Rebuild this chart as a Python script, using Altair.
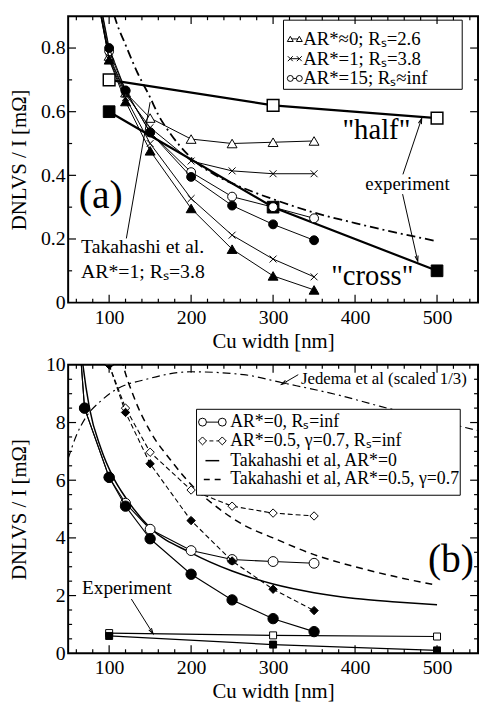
import altair as alt
import pandas as pd

FONT = "Liberation Serif"
W = 415
HA = 290
HB = 292
X_DOMAIN = [50, 550]
A_DOMAIN = [0, 0.9]
B_DOMAIN = [0, 10]

# ---------------- panel (a) data ----------------
a_x = [70, 100, 120, 150, 200, 250, 300, 350]
a_tri_open = [1.18, 0.775, 0.66, 0.58, 0.514, 0.50, 0.504, 0.508]
a_tri_fill = [1.17, 0.763, 0.632, 0.477, 0.296, 0.168, 0.084, 0.04]
a_x_half = [1.18, 0.77, 0.655, 0.55, 0.445, 0.414, 0.405, 0.405]
a_x_cross = [1.17, 0.765, 0.645, 0.50, 0.327, 0.212, 0.137, 0.081]
a_circ_open = [1.2, 0.79, 0.665, 0.535, 0.41, 0.333, 0.30, 0.265]
a_circ_fill = [1.2, 0.80, 0.667, 0.535, 0.395, 0.305, 0.246, 0.196]
exp_x = [100, 300, 500]
exp_half = [0.70, 0.62, 0.58]
exp_cross = [0.60, 0.30, 0.10]
a_tak_x = [100, 109, 120, 135, 150, 160, 175, 200, 230, 260, 300, 350, 400, 450, 500]
a_tak_y = [0.96, 0.88, 0.81, 0.72, 0.645, 0.59, 0.53, 0.455, 0.40, 0.364, 0.325, 0.283, 0.25, 0.22, 0.193]

# ---------------- panel (b) data ----------------
b_circ_x = [60, 70, 100, 120, 150, 200, 250, 300, 350]
b_circ_open = [12.3, 8.5, 6.1, 5.2, 4.3, 3.56, 3.25, 3.18, 3.12]
b_circ_fill = [12.3, 8.5, 6.1, 5.1, 3.97, 2.74, 1.85, 1.2, 0.75]
b_dia_x = [100, 120, 150, 200, 250, 300, 350]
b_dia_open = [10.0, 8.5, 6.97, 5.66, 5.1, 4.86, 4.76]
b_dia_fill = [10.0, 8.35, 6.57, 4.6, 3.2, 2.22, 1.48]
b_tak0_x = [60, 68, 76, 90, 105, 120, 150, 200, 250, 300, 350, 400, 450, 500]
b_tak0_y = [12.2, 10.0, 8.5, 7.1, 6.1, 5.4, 4.35, 3.48, 2.85, 2.4, 2.1, 1.9, 1.78, 1.68]
b_tak5_x = [112, 117, 130, 150, 175, 200, 230, 264, 300, 350, 400, 450, 500]
b_tak5_y = [10.6, 10.0, 8.9, 7.7, 6.7, 5.85, 5.1, 4.45, 4.0, 3.42, 3.0, 2.65, 2.36]
b_jed_x = [50, 60, 72, 90, 108, 144, 200, 264, 311, 380, 431, 500, 550]
b_jed_y = [6.75, 7.55, 8.2, 8.75, 9.14, 9.49, 9.76, 9.66, 9.38, 8.95, 8.56, 8.07, 7.72]

# ---------------- ticks ----------------
x_major = [100, 200, 300, 400, 500]
x_minor = [60, 80, 120, 140, 160, 180, 220, 240, 260, 280, 320, 340, 360, 380,
           420, 440, 460, 480, 520, 540]
a_y_labels = [0, 0.2, 0.4, 0.6, 0.8]
a_y_major = [0.2, 0.4, 0.6, 0.8]
a_y_minor = [0.1, 0.3, 0.5, 0.7]
b_y_labels = [0, 2, 4, 6, 8, 10]
b_y_major = [2, 4, 6, 8]
b_y_minor = [0.5, 1, 1.5, 2.5, 3, 3.5, 4.5, 5, 5.5, 6.5, 7, 7.5, 8.5, 9, 9.5]

XPATH = "M-1,-1L1,1M-1,1L1,-1"
ARROW = "M-0.4,1.4L0,0L0.4,1.4"


class Panel:
    def __init__(self, domain, yvals, label_expr, H):
        self.domain = domain
        self.yvals = yvals
        self.label_expr = label_expr
        self.H = H

    def X(self, f):
        return alt.X(f, scale=alt.Scale(domain=X_DOMAIN, nice=False, zero=False),
                     title="Cu width [nm]",
                     axis=alt.Axis(values=x_major, ticks=False, domain=False, grid=False,
                                   labelPadding=5, titlePadding=3, format="d"))

    def Y(self, f):
        return alt.Y(f, scale=alt.Scale(domain=self.domain, nice=False, zero=False),
                     title="DNLVS / I [mΩ]",
                     axis=alt.Axis(values=self.yvals, ticks=False, domain=False, grid=False,
                                   labelPadding=3, labelExpr=self.label_expr, titleX=-39))

    def xy(self, chart):
        return chart.encode(x=self.X("x:Q"), y=self.Y("y:Q"))

    def series(self, x, y, shape=None, fill=None, size=60, dash=None, sw=1.0,
               interp="linear", msw=1.0):
        df = pd.DataFrame({"x": x, "y": y})
        out = []
        kw = dict(color="black", strokeWidth=sw, clip=True, interpolate=interp)
        if dash:
            kw["strokeDash"] = dash
        out.append(self.xy(alt.Chart(df).mark_line(**kw)))
        if shape:
            if fill is None:
                m = alt.Chart(df).mark_point(shape=shape, filled=False, stroke="black",
                                             strokeWidth=msw, size=size, opacity=1, clip=True)
            else:
                m = alt.Chart(df).mark_point(shape=shape, filled=True, fill=fill, stroke="black",
                                             strokeWidth=msw, size=size, opacity=1, clip=True)
            out.append(self.xy(m))
        return out

    def text(self, x, y, t, size, align="left", baseline="middle"):
        df = pd.DataFrame({"x": x, "y": y, "t": t})
        return self.xy(alt.Chart(df).mark_text(font=FONT, fontSize=size, align=align,
                                               baseline=baseline, color="black")).encode(text="t:N")

    def seg(self, x1, y1, x2, y2, sw=1.0, dash=None):
        df = pd.DataFrame({"x": x1, "y": y1, "x2": x2, "y2": y2})
        kw = dict(color="black", strokeWidth=sw)
        if dash:
            kw["strokeDash"] = dash
        return alt.Chart(df).mark_rule(**kw).encode(
            x=self.X("x:Q"), y=self.Y("y:Q"), x2="x2:Q", y2="y2:Q")

    def head(self, x, y, ang):
        df = pd.DataFrame({"x": [x], "y": [y]})
        return self.xy(alt.Chart(df).mark_point(shape=ARROW, filled=False, stroke="black",
                                                strokeWidth=1, size=64, angle=ang, opacity=1))

    def box(self, x1, x2, y1, y2):
        df = pd.DataFrame({"x": [x1], "x2": [x2], "y": [y1], "y2": [y2]})
        return alt.Chart(df).mark_rect(fill="white", stroke="black", strokeWidth=1).encode(
            x=self.X("x:Q"), y=self.Y("y:Q"), x2="x2:Q", y2="y2:Q")

    def ticks(self, ymaj, ymin):
        out = []
        H = self.H
        for vals, L in ((x_major, 8), (x_minor, 4)):
            df = pd.DataFrame({"x": vals})
            b = alt.Chart(df).mark_rule(color="black", strokeWidth=1.2)
            out.append(b.encode(x=self.X("x:Q"), y=alt.value(H), y2=alt.value(H - L)))
            out.append(b.encode(x=self.X("x:Q"), y=alt.value(0), y2=alt.value(L)))
        for vals, L in ((ymaj, 8), (ymin, 4)):
            df = pd.DataFrame({"y": vals})
            b = alt.Chart(df).mark_rule(color="black", strokeWidth=1.2)
            out.append(b.encode(y=self.Y("y:Q"), x=alt.value(0), x2=alt.value(L)))
            out.append(b.encode(y=self.Y("y:Q"), x=alt.value(W), x2=alt.value(W - L)))
        return out


# ================= panel (a) =================
pa = Panel(A_DOMAIN, a_y_labels, "datum.value == 0 ? '0' : format(datum.value, '.1f')", HA)
A = []
A += pa.series(a_tak_x, a_tak_y, dash=[9, 4, 2, 4], sw=1.8, interp="monotone")
A += pa.series(exp_x, exp_half, shape="square", fill="white", size=140, sw=2.2, msw=1.5)
A += pa.series(exp_x, exp_cross, shape="square", fill="black", size=140, sw=2.2)
A += pa.series(a_x, a_tri_open, shape="triangle-up", fill="white", size=100)
A += pa.series(a_x, a_x_half, shape=XPATH, size=49)
A += pa.series(a_x, a_circ_open, shape="circle", fill="white", size=81)
A += pa.series(a_x, a_tri_fill, shape="triangle-up", fill="black", size=100)
A += pa.series(a_x, a_x_cross, shape=XPATH, size=49)
A += pa.series(a_x, a_circ_fill, shape="circle", fill="black", size=81)

# annotations (a)
A.append(pa.text([426], [0.543], ['"half"'], 29, align="center"))
A.append(pa.text([421], [0.084], ['"cross"'], 29, align="center"))
A.append(pa.text([464], [0.372], ["experiment"], 19, align="center"))
A.append(pa.seg([458.4], [0.403], [481.3], [0.579]))
A.append(pa.head(481.3, 0.579, 18.5))
A.append(pa.seg([458], [0.341], [476.5], [0.13]))
A.append(pa.head(476.5, 0.13, 167.2))
A.append(pa.text([89.8], [0.335], ["(a)"], 40, align="center"))
A.append(pa.seg([121], [0.2017], [150], [0.63]))
A.append(pa.text([65.7, 65.7], [0.155, 0.0775], ["Takahashi et al.", "AR*=1; Rₛ=3.8"], 20,
                 baseline="alphabetic"))

# legend (a)
la_rows = [0.8286, 0.7665, 0.7045]
la_text = ["AR*≈0; Rₛ=2.6", "AR*=1; Rₛ=3.8", "AR*=15; Rₛ≈inf"]
la_shapes = ["triangle-up", XPATH, "circle"]
la_sizes = [36, 25, 36]
A.append(pa.box(312.7, 530.7, 0.8876, 0.6703))
for r, s, z in zip(la_rows, la_shapes, la_sizes):
    A += pa.series([321, 332], [r, r], shape=s, fill=None if s == XPATH else "white", size=z)
A.append(pa.text([336.7] * 3, la_rows, la_text, 19))
A += pa.ticks(a_y_major, a_y_minor)

top = alt.layer(*A).properties(width=W, height=HA)

# ================= panel (b) =================
pb = Panel(B_DOMAIN, b_y_labels, "format(datum.value, 'd')", HB)
B = []
B += pb.series(b_jed_x, b_jed_y, dash=[8, 4, 2, 4], sw=1.2, interp="monotone")
B += pb.series(b_tak0_x, b_tak0_y, sw=1.5, interp="monotone")
B += pb.series(b_tak5_x, b_tak5_y, sw=1.5, dash=[7, 5], interp="monotone")
B += pb.series(exp_x, exp_half, shape="square", fill="white", size=50, sw=1.2)
B += pb.series(exp_x, exp_cross, shape="square", fill="black", size=50, sw=1.2)
B += pb.series(b_dia_x, b_dia_open, shape="diamond", fill="white", size=72, dash=[5, 3], sw=1.1)
B += pb.series(b_circ_x, b_circ_open, shape="circle", fill="white", size=100, sw=1.1)
B += pb.series(b_dia_x, b_dia_fill, shape="diamond", fill="black", size=72, dash=[5, 3], sw=1.1)
B += pb.series(b_circ_x, b_circ_fill, shape="circle", fill="black", size=110, sw=1.1)

# annotations (b)
B.append(pb.text([517], [3.22], ["(b)"], 40, align="center"))
B.append(pb.text([66.9], [2.25], ["Experiment"], 19.5))
B.append(pb.seg([127.1], [1.88], [153.6], [0.68]))
B.append(pb.head(153.6, 0.68, 147.8))

# legend (b)
lb_rows = [8.014, 7.363, 6.678, 6.027]
lb_text = ["AR*=0, Rₛ=inf", "AR*=0.5, γ=0.7, Rₛ=inf", "Takahashi et al, AR*=0",
           "Takahashi et al, AR*=0.5, γ=0.7"]
B.append(pb.box(206.6, 528.3, 8.459, 5.479))
B += pb.series([213.9, 238], [lb_rows[0]] * 2, shape="circle", fill="white", size=64)
B += pb.series([213.9, 238], [lb_rows[1]] * 2, shape="diamond", fill="white", size=64, dash=[4, 3])
B.append(pb.seg([217.5], [lb_rows[2]], [234.3], [lb_rows[2]], sw=1.5))
B.append(pb.seg([215.5], [lb_rows[3]], [237.5], [lb_rows[3]], sw=1.5, dash=[6, 5]))
B.append(pb.text([247.6] * 4, lb_rows, lb_text, 18))

# Jedema label
B.append(pb.text([334], [9.52], ["Jedema et al (scaled 1/3)"], 17))
B.append(pb.seg([330.7], [9.66], [310.2], [9.32]))
B.append(pb.head(310.2, 9.32, 239.8))
B += pb.ticks(b_y_major, b_y_minor)

bottom = alt.layer(*B).properties(width=W, height=HB)

chart = alt.vconcat(top, bottom, spacing=2).properties(
    padding={"left": 8, "top": 10, "right": 0, "bottom": 0}
).configure_view(stroke="black", strokeWidth=2).configure_axis(
    labelFont=FONT, titleFont=FONT, labelFontSize=20, titleFontSize=21,
    titleFontWeight="normal", labelColor="black", titleColor="black"
)

chart.save("out.html", embed_options={"renderer": "svg", "actions": False})
